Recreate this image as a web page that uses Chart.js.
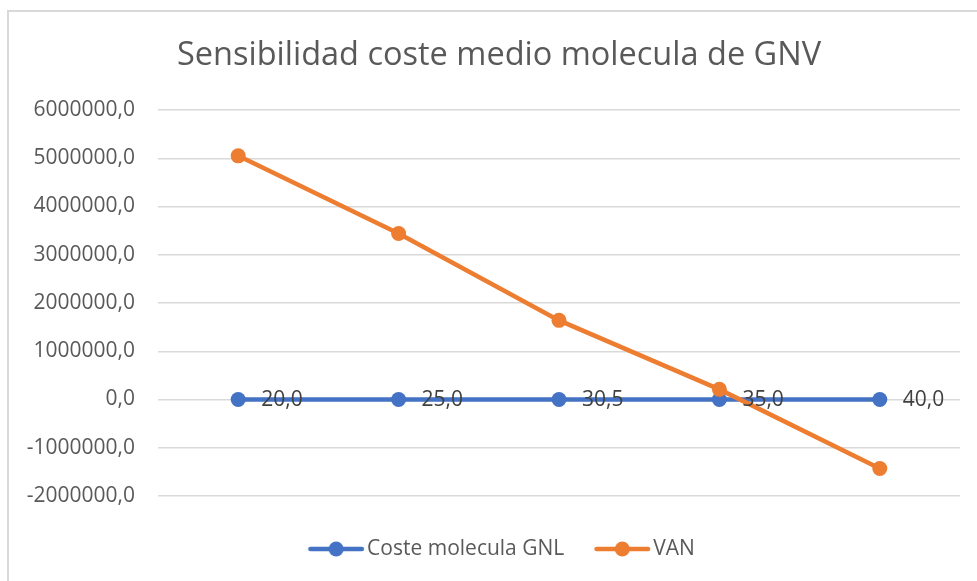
<!DOCTYPE html>
<html>
<head>
<meta charset="utf-8">
<script src="https://cdn.jsdelivr.net/npm/chart.js@4/dist/chart.umd.min.js"></script>
<style>
  html, body { margin: 0; padding: 0; background: #ffffff; overflow: hidden; }
  #wrap { position: absolute; left: 0; top: 0; width: 977px; height: 581px; }
  #frame { position: absolute; left: 7px; top: 10px; width: 1200px; height: 1200px;
           border-left: 2px solid #d9d9d9; border-top: 2px solid #d9d9d9; pointer-events: none; }
</style>
</head>
<body>
<div id="wrap"><canvas id="c" width="977" height="581"></canvas></div>
<div id="frame"></div>
<script>
const chartTitle = "Sensibilidad coste medio molecula de GNV";
const categories = ["1", "2", "3", "4", "5"];
const seriesNames = ["Coste molecula GNL", "VAN"];
const costeMolecula = [20.0, 25.0, 30.5, 35.0, 40.0];
const van = [5050000, 3440000, 1640000, 210000, -1430000];
const yMin = -2000000, yMax = 6000000, yStep = 1000000;

const BLUE = "#4472C4", ORANGE = "#ED7D31";
const FONT = "'Open Sans', 'Liberation Sans', sans-serif";

function fmt(v) { return Number(v).toFixed(1).replace('.', ','); }

function legendSymbol(color) {
  const cv = document.createElement('canvas');
  cv.width = 70; cv.height = 18;
  const g = cv.getContext('2d');
  g.strokeStyle = color; g.lineWidth = 4.5; g.lineCap = 'round';
  g.beginPath(); g.moveTo(15.5, 9); g.lineTo(67, 9); g.stroke();
  g.fillStyle = color; g.beginPath(); g.arc(41.25, 9, 7.5, 0, Math.PI * 2); g.fill();
  return cv;
}
const symbols = [legendSymbol(BLUE), legendSymbol(ORANGE)];

const dataLabels = {
  id: 'dataLabels',
  afterDatasetsDraw(chart) {
    const meta = chart.getDatasetMeta(0);
    const ctx = chart.ctx;
    ctx.save();
    ctx.font = "21px " + FONT;
    ctx.fillStyle = "#404040";
    ctx.textAlign = 'left';
    ctx.textBaseline = 'middle';
    meta.data.forEach((pt, i) => {
      ctx.fillText(fmt(costeMolecula[i]), pt.x + 23, pt.y + 1);
    });
    ctx.restore();
  }
};

new Chart(document.getElementById('c'), {
  type: 'line',
  data: {
    labels: categories,
    datasets: [
      { label: seriesNames[0], data: costeMolecula, borderColor: BLUE, backgroundColor: BLUE,
        borderWidth: 4.5, pointRadius: 7.5, pointBorderWidth: 0, pointBackgroundColor: BLUE,
        tension: 0, order: 1 },
      { label: seriesNames[1], data: van, borderColor: ORANGE, backgroundColor: ORANGE,
        borderWidth: 4.5, pointRadius: 7.5, pointBorderWidth: 0, pointBackgroundColor: ORANGE,
        tension: 0, order: 0 }
    ]
  },
  options: {
    responsive: false,
    animation: false,
    layout: { padding: { left: 21, right: 0, top: 0, bottom: 11.5 } },
    plugins: {
      tooltip: { enabled: false },
      title: {
        display: true, text: chartTitle, color: "#595959",
        font: { family: FONT, size: 32.5, weight: 'normal', lineHeight: 1.2 },
        padding: { top: 36, bottom: 35 }
      },
      legend: {
        position: 'bottom',
        labels: {
          color: "#595959",
          font: { family: FONT, size: 21 },
          padding: 25,
          usePointStyle: true,
          pointStyleWidth: 53.5,
          sort: (a, b) => a.datasetIndex - b.datasetIndex,
          generateLabels(chart) {
            const items = Chart.defaults.plugins.legend.labels.generateLabels(chart);
            items.forEach(it => { it.pointStyle = symbols[it.datasetIndex]; });
            return items;
          }
        }
      }
    },
    scales: {
      x: {
        display: true,
        offset: true,
        ticks: { display: false },
        grid: { display: false },
        border: { display: false },
        afterFit(scale) { scale.height = 17.5; }
      },
      y: {
        min: yMin, max: yMax,
        ticks: { stepSize: yStep, color: "#595959", font: { family: FONT, size: 21 }, padding: 23,
                 callback: (v) => fmt(v) },
        grid: { color: "#d9d9d9", lineWidth: 1.5, drawTicks: false },
        border: { display: false },
        afterFit(scale) { scale.width = 137; }
      },
      yRight: {
        type: 'linear',
        position: 'right',
        display: true,
        min: yMin, max: yMax,
        ticks: { display: false },
        grid: { display: false },
        border: { display: false },
        afterFit(scale) { scale.width = 17; }
      }
    }
  },
  plugins: [dataLabels]
});
</script>
</body>
</html>
